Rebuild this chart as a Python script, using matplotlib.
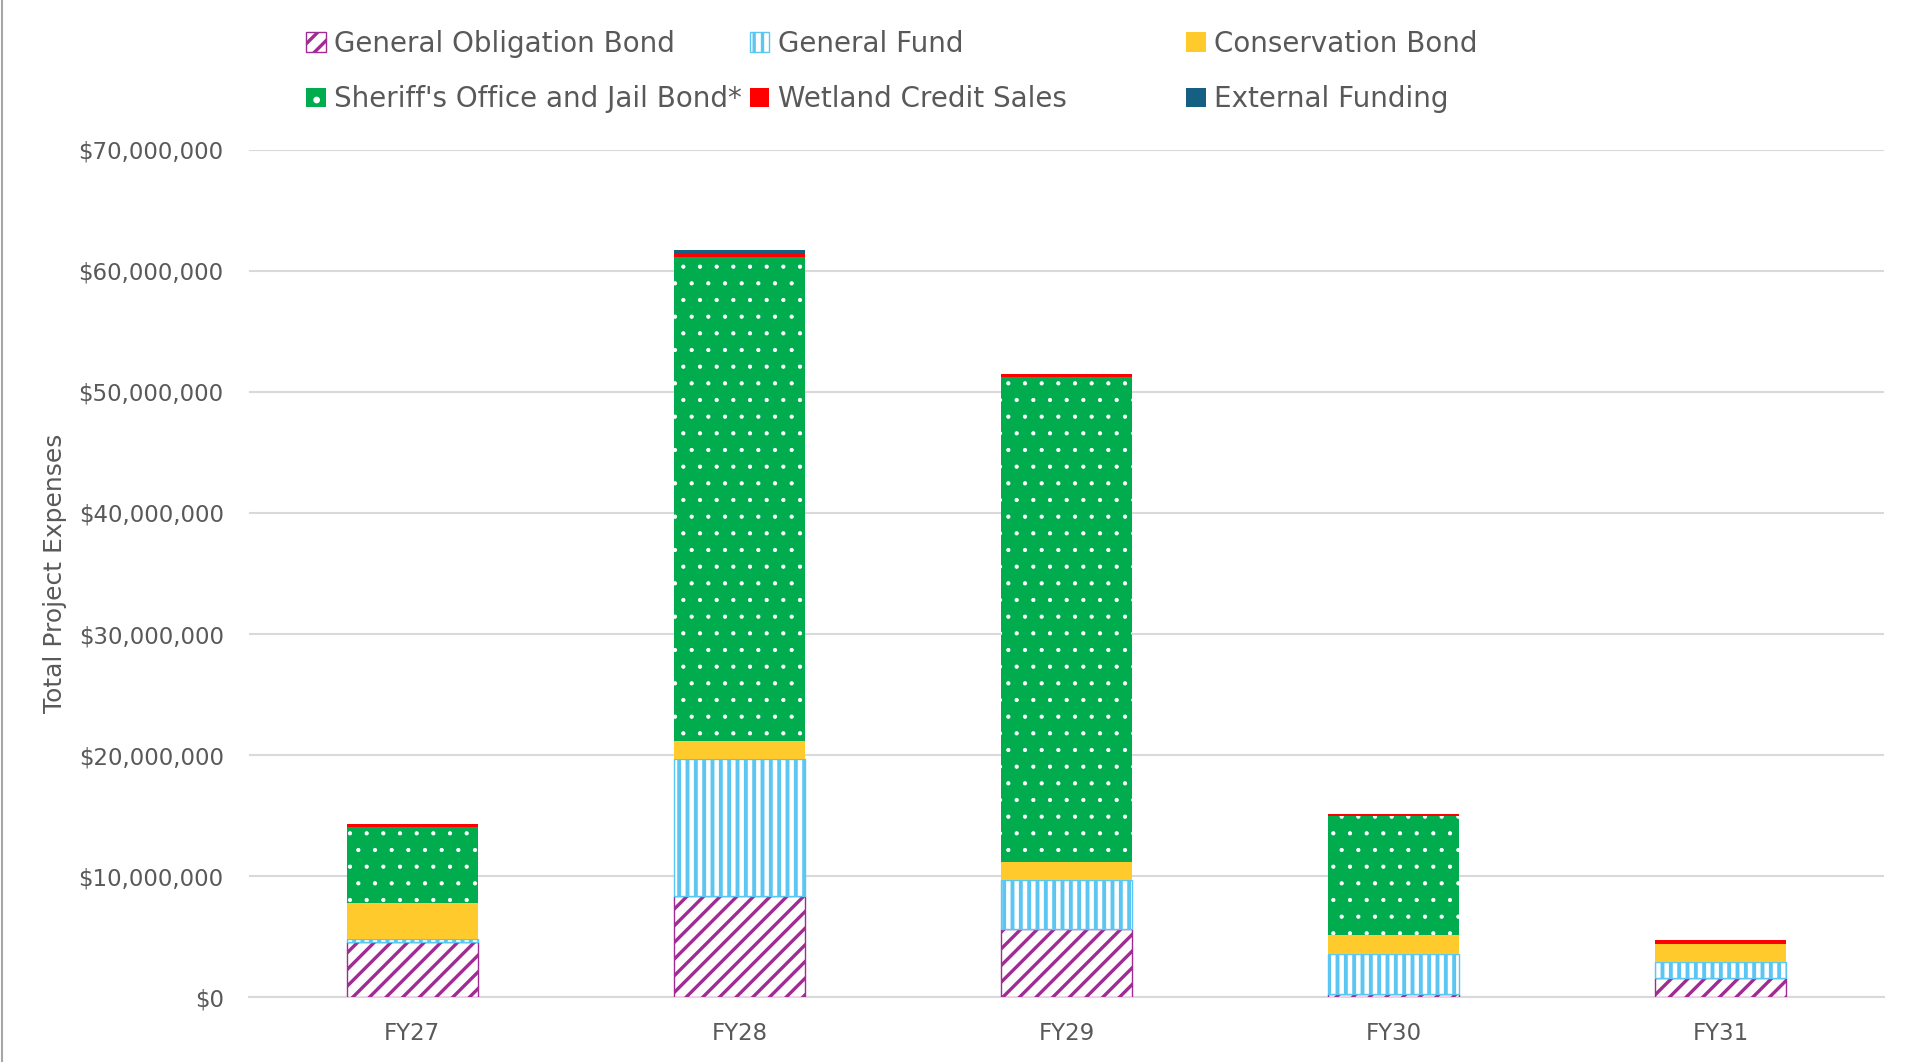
import numpy as np
import matplotlib.pyplot as plt
from matplotlib.lines import Line2D
from matplotlib.ticker import FuncFormatter

# =============================================================================
# Data (values in dollars)
# =============================================================================
years = ["FY27", "FY28", "FY29", "FY30", "FY31"]

general_obligation = [4_560_000, 8_320_000, 5_650_000, 280_000, 1_600_000]
general_fund = [250_000, 11_380_000, 4_050_000, 3_310_000, 1_290_000]
conservation = [3_000_000, 1_460_000, 1_460_000, 1_510_000, 1_470_000]
sheriff_jail = [6_250_000, 40_000_000, 40_030_000, 9_830_000, 0]
wetland = [220_000, 190_000, 270_000, 230_000, 330_000]
external = [0, 350_000, 0, 0, 0]

series_labels = [
    "General Obligation Bond",
    "General Fund",
    "Conservation Bond",
    "Sheriff's Office and Jail Bond*",
    "Wetland Credit Sales",
    "External Funding",
]

# =============================================================================
# Style
# =============================================================================
PURPLE = "#A02B93"
LIGHT_BLUE = "#5BC6F2"
YELLOW = "#FFCA2B"
GREEN = "#00AC4E"
RED = "#FF0000"
NAVY = "#156082"
TEXT = "#595959"
GRID = "#D9D9D9"

plt.rcParams["font.family"] = ["DejaVu Sans"]
plt.rcParams["hatch.linewidth"] = 2.4

fig = plt.figure(figsize=(19.13, 10.62), dpi=100)
ax = fig.add_axes([0.130, 0.061, 0.855, 0.798])

x = np.arange(len(years))
width = 0.4
bottom = np.zeros(len(years))

styles = [
    dict(facecolor="white", edgecolor=PURPLE, hatch="//", linewidth=1.0),
    dict(facecolor="white", edgecolor=LIGHT_BLUE, hatch="||", linewidth=1.0),
    dict(facecolor=YELLOW, edgecolor=YELLOW, linewidth=0),
    dict(facecolor=GREEN, edgecolor="white", hatch=".", linewidth=0),
    dict(facecolor=RED, edgecolor=RED, linewidth=0),
    dict(facecolor=NAVY, edgecolor=NAVY, linewidth=0),
]
hatch_lw = [2.4, 2.8, None, 0.6, None, None]
all_series = [general_obligation, general_fund, conservation,
              sheriff_jail, wetland, external]

handles = []
for vals, label, st, hlw in zip(all_series, series_labels, styles, hatch_lw):
    vals = np.asarray(vals, dtype=float)
    bars = ax.bar(x, vals, width, bottom=bottom, label=label, zorder=3, **st)
    if hlw is not None:
        for p in bars.patches:
            if hasattr(p, "set_hatch_linewidth"):
                p.set_hatch_linewidth(hlw)
    handles.append(bars)
    bottom += vals

# -------------------------
# Axes
# -------------------------
ax.set_xlim(-0.5, len(years) - 0.5)
ax.set_ylim(0, 70_000_000)
ax.set_yticks(np.arange(0, 70_000_001, 10_000_000))
ax.yaxis.set_major_formatter(FuncFormatter(lambda v, p: f"${v:,.0f}"))
ax.set_xticks(x)
ax.set_xticklabels(years)
ax.tick_params(axis="both", length=0, labelsize=16.5, colors=TEXT, pad=18)
ax.grid(axis="y", color=GRID, linewidth=1.5, zorder=0)
for side in ["top", "right", "left"]:
    ax.spines[side].set_visible(False)
ax.spines["bottom"].set_color(GRID)
ax.spines["bottom"].set_linewidth(1.5)
ax.set_ylabel("Total Project Expenses", fontsize=18, color=TEXT)
ax.yaxis.set_label_coords(-0.111, 0.5)

# -------------------------
# Legend (row-major, three evenly spaced columns)
# -------------------------
leg_kw = dict(frameon=False, fontsize=20, labelcolor=TEXT,
              handlelength=0.7, handleheight=0.7, handletextpad=0.3,
              labelspacing=0.98, borderaxespad=0, borderpad=0)
leg1 = fig.legend([handles[0], handles[3], handles[1], handles[4]],
                  [series_labels[0], series_labels[3], series_labels[1], series_labels[4]],
                  ncol=2, columnspacing=0.3, loc="upper left",
                  bbox_to_anchor=(0.160, 0.972), **leg_kw)
leg2 = fig.legend([handles[2], handles[5]],
                  [series_labels[2], series_labels[5]],
                  ncol=1, loc="upper left",
                  bbox_to_anchor=(0.620, 0.972), **leg_kw)

# left border of the chart area
fig.add_artist(Line2D([0.0008, 0.0008], [0, 1], color="#A6A6A6",
                      linewidth=1.5, transform=fig.transFigure))

fig.savefig("out.png", dpi=100)
plt.close(fig)
